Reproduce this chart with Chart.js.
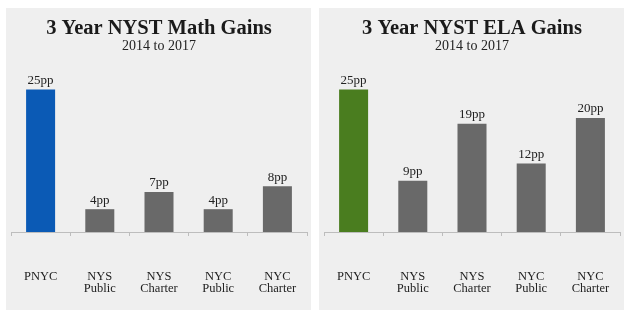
<!DOCTYPE html>
<html>
<head>
<meta charset="utf-8">
<script src="https://cdn.jsdelivr.net/npm/chart.js@4"></script>
<style>
  html, body { margin: 0; padding: 0; background: #fff; }
  .panel { position: absolute; top: 8px; width: 305px; height: 302px; background: #efefef; }
  #p1 { left: 6px; }
  #p2 { left: 319px; }
</style>
</head>
<body>
<div class="panel" id="p1"><canvas id="math" width="305" height="302"></canvas></div>
<div class="panel" id="p2"><canvas id="ela" width="305" height="302"></canvas></div>
<script>
// categories (multi-line tick labels)
const categories = [['PNYC'], ['NYS', 'Public'], ['NYS', 'Charter'], ['NYC', 'Public'], ['NYC', 'Charter']];

// gains in percentage points
const mathGains = [25, 4, 7, 4, 8];
const elaGains = [25, 9, 19, 12, 20];

const mathColors = ['#0b5ab5', '#696969', '#696969', '#696969', '#696969'];
const elaColors = ['#4a7d1f', '#696969', '#696969', '#696969', '#696969'];

const serif = '"Liberation Serif", "Times New Roman", serif';

// value labels above bars
const valueLabels = {
  id: 'valueLabels',
  afterDatasetsDraw(chart) {
    const { ctx } = chart;
    const meta = chart.getDatasetMeta(0);
    const data = chart.data.datasets[0].data;
    ctx.save();
    ctx.font = '13px ' + serif;
    ctx.fillStyle = '#222';
    ctx.textAlign = 'center';
    ctx.textBaseline = 'middle';
    meta.data.forEach((bar, i) => {
      ctx.fillText(data[i] + 'pp', bar.x, bar.y - 9);
    });
    ctx.restore();
  }
};

function makeChart(id, title, values, colors) {
  return new Chart(document.getElementById(id), {
    type: 'bar',
    data: {
      labels: categories,
      datasets: [{
        data: values,
        backgroundColor: colors,
        barPercentage: 0.49,
        categoryPercentage: 1
      }]
    },
    options: {
      responsive: false,
      animation: false,
      layout: { padding: { left: 5, right: 4, top: 0, bottom: 16 } },
      plugins: {
        legend: { display: false },
        tooltip: { enabled: false },
        title: {
          display: true,
          text: title,
          color: '#1a1a1a',
          font: { family: serif, size: 20.5, weight: 'bold', lineHeight: 1 },
          padding: { top: 10.5, bottom: 0 }
        },
        subtitle: {
          display: true,
          text: '2014 to 2017',
          color: '#222',
          font: { family: serif, size: 14, lineHeight: 1 },
          padding: { top: 0, bottom: 7.9 }
        }
      },
      scales: {
        x: {
          grid: {
            display: true,
            drawOnChartArea: false,
            drawTicks: true,
            tickLength: 4,
            color: '#bdbdbd',
            offset: true
          },
          border: { display: true, color: '#bdbdbd' },
          ticks: {
            color: '#222',
            padding: 34,
            font: { family: serif, size: 12.5, lineHeight: 1.0 }
          },
          // the big tick padding would otherwise also be added at the sides
          afterFit(scale) {
            scale.paddingLeft = 0;
            scale.paddingRight = 0;
            scale.height = 62;
          }
        },
        y: {
          display: false,
          min: 0,
          max: 30
        }
      }
    },
    plugins: [valueLabels]
  });
}

makeChart('math', '3 Year NYST Math Gains', mathGains, mathColors);
makeChart('ela', '3 Year NYST ELA Gains', elaGains, elaColors);
</script>
</body>
</html>
